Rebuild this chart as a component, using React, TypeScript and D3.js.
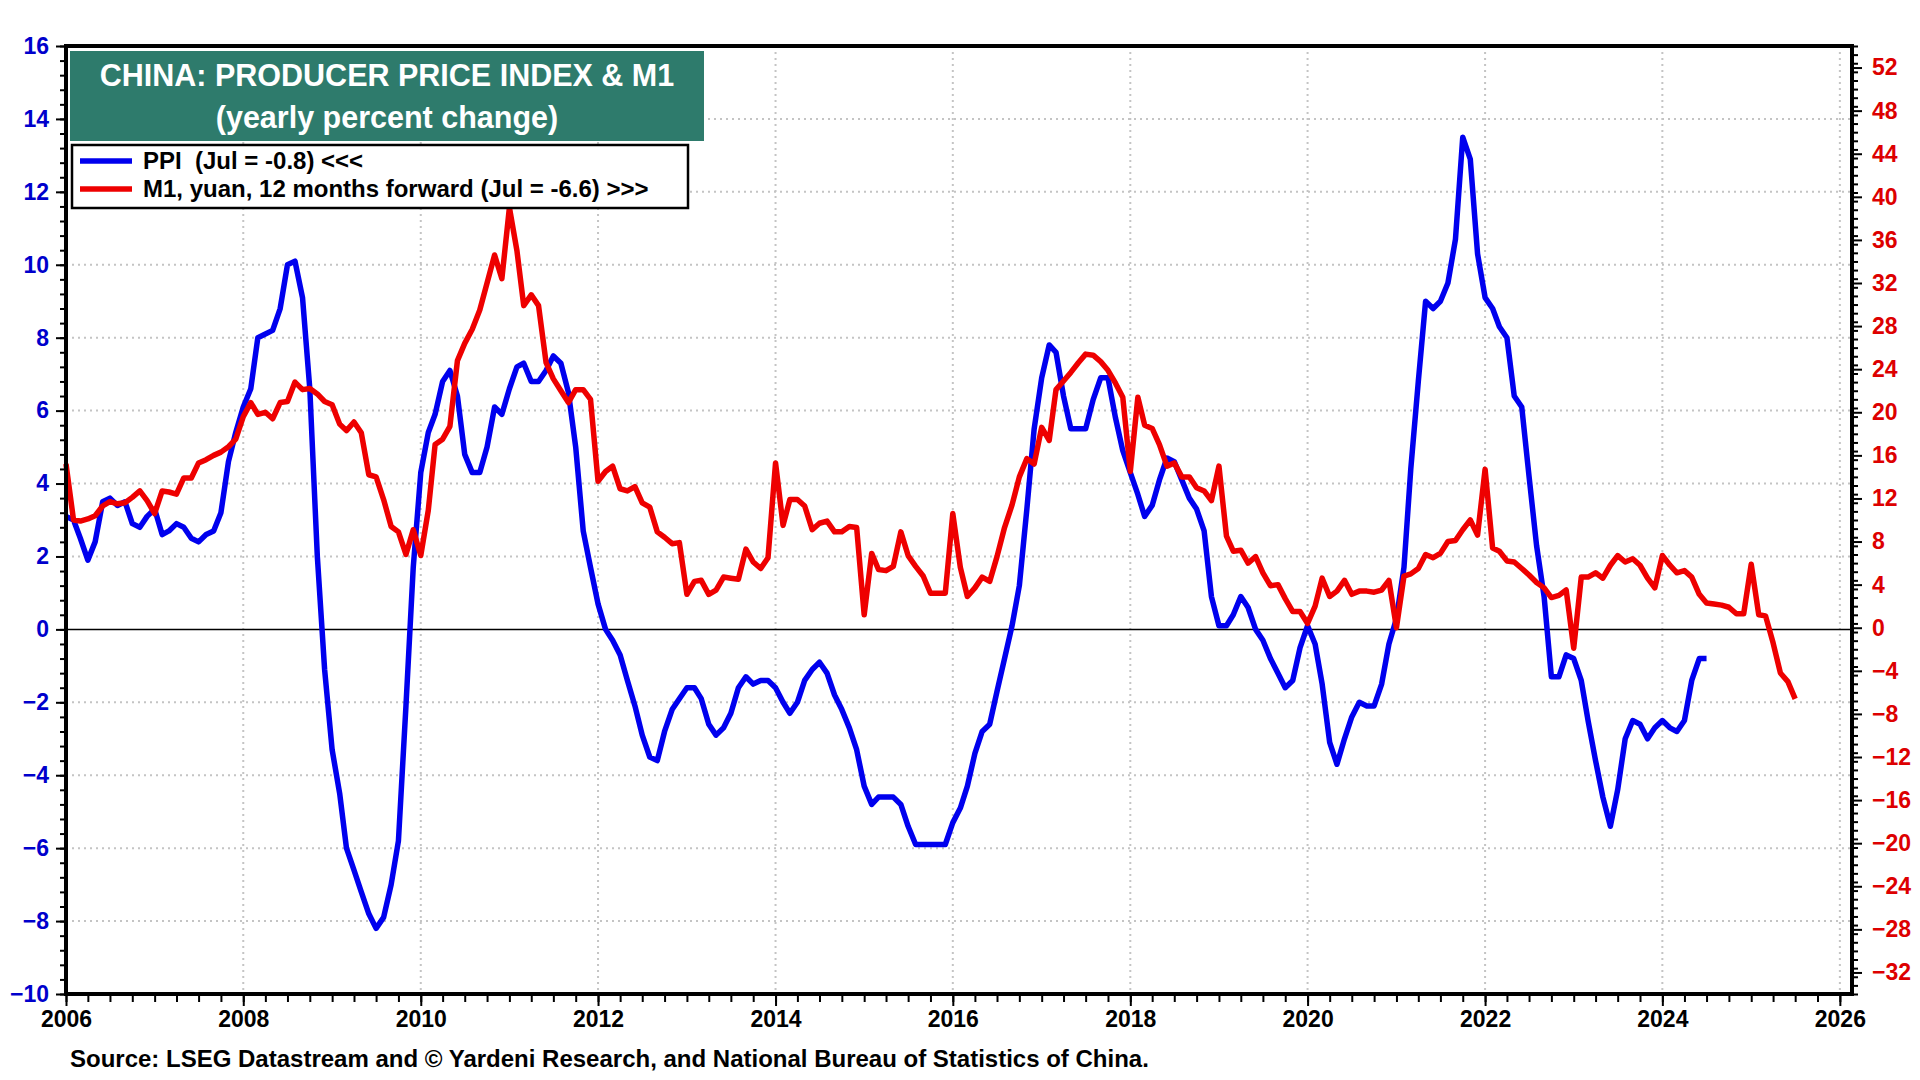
import React, { useRef, useEffect } from "react";
import * as d3 from "d3";

// monthly, Jan 2006 .. Jul 2024
const ppiYoy: number[] = [
  3.1, 3.0, 2.5, 1.9, 2.4, 3.5, 3.6, 3.4, 3.5, 2.9, 2.8, 3.1,
  3.3, 2.6, 2.7, 2.9, 2.8, 2.5, 2.4, 2.6, 2.7, 3.2, 4.6, 5.4,
  6.1, 6.6, 8.0, 8.1, 8.2, 8.8, 10.0, 10.1, 9.1, 6.6, 2.0, -1.1,
  -3.3, -4.5, -6.0, -6.6, -7.2, -7.8, -8.2, -7.9, -7.0, -5.8, -2.1, 1.7,
  4.3, 5.4, 5.9, 6.8, 7.1, 6.4, 4.8, 4.3, 4.3, 5.0, 6.1, 5.9,
  6.6, 7.2, 7.3, 6.8, 6.8, 7.1, 7.5, 7.3, 6.5, 5.0, 2.7, 1.7,
  0.7, 0.0, -0.3, -0.7, -1.4, -2.1, -2.9, -3.5, -3.6, -2.8, -2.2, -1.9,
  -1.6, -1.6, -1.9, -2.6, -2.9, -2.7, -2.3, -1.6, -1.3, -1.5, -1.4, -1.4,
  -1.6, -2.0, -2.3, -2.0, -1.4, -1.1, -0.9, -1.2, -1.8, -2.2, -2.7, -3.3,
  -4.3, -4.8, -4.6, -4.6, -4.6, -4.8, -5.4, -5.9, -5.9, -5.9, -5.9, -5.9,
  -5.3, -4.9, -4.3, -3.4, -2.8, -2.6, -1.7, -0.8, 0.1, 1.2, 3.3, 5.5,
  6.9, 7.8, 7.6, 6.4, 5.5, 5.5, 5.5, 6.3, 6.9, 6.9, 5.8, 4.9,
  4.3, 3.7, 3.1, 3.4, 4.1, 4.7, 4.6, 4.1, 3.6, 3.3, 2.7, 0.9,
  0.1, 0.1, 0.4, 0.9, 0.6, 0.0, -0.3, -0.8, -1.2, -1.6, -1.4, -0.5,
  0.1, -0.4, -1.5, -3.1, -3.7, -3.0, -2.4, -2.0, -2.1, -2.1, -1.5, -0.4,
  0.3, 1.7, 4.4, 6.8, 9.0, 8.8, 9.0, 9.5, 10.7, 13.5, 12.9, 10.3,
  9.1, 8.8, 8.3, 8.0, 6.4, 6.1, 4.2, 2.3, 0.9, -1.3, -1.3, -0.7,
  -0.8, -1.4, -2.5, -3.6, -4.6, -5.4, -4.4, -3.0, -2.5, -2.6, -3.0, -2.7,
  -2.5, -2.7, -2.8, -2.5, -1.4, -0.8, -0.8,
];

// M1 yoy shifted 12 months forward, plotted Jan 2006 .. Jul 2025
const m1Forward: number[] = [
  15.2, 10.0, 9.9, 10.1, 10.4, 11.3, 11.7, 11.5, 11.6, 12.1, 12.7, 11.8,
  10.6, 12.7, 12.6, 12.4, 13.9, 13.9, 15.3, 15.6, 16.0, 16.3, 16.8, 17.5,
  19.6, 20.9, 19.8, 20.0, 19.4, 20.9, 21.0, 22.8, 22.1, 22.2, 21.7, 21.0,
  20.7, 18.9, 18.3, 19.1, 18.1, 14.2, 14.0, 11.9, 9.4, 8.9, 6.8, 9.1,
  6.7, 10.9, 17.0, 17.5, 18.7, 24.8, 26.4, 27.7, 29.5, 32.0, 34.6, 32.4,
  39.0, 35.0, 29.9, 30.9, 29.9, 24.6, 23.1, 22.0, 20.9, 22.1, 22.1, 21.2,
  13.6, 14.5, 15.0, 12.9, 12.7, 13.1, 11.6, 11.2, 8.9, 8.4, 7.8, 7.9,
  3.1, 4.3, 4.4, 3.1, 3.5, 4.7, 4.6, 4.5, 7.3, 6.1, 5.5, 6.5,
  15.3, 9.5, 11.9, 11.9, 11.3, 9.1, 9.7, 9.9, 8.9, 8.9, 9.4, 9.3,
  1.2, 6.9, 5.4, 5.3, 5.7, 8.9, 6.7, 5.7, 4.8, 3.2, 3.2, 3.2,
  10.6, 5.6, 2.9, 3.7, 4.7, 4.3, 6.6, 9.3, 11.4, 14.0, 15.7, 15.2,
  18.6, 17.4, 22.1, 22.9, 23.7, 24.6, 25.4, 25.3, 24.7, 23.9, 22.7, 21.4,
  14.5, 21.4, 18.8, 18.5, 17.0, 15.0, 15.3, 14.0, 14.0, 13.0, 12.7, 11.8,
  15.0, 8.5, 7.1, 7.2, 6.0, 6.6, 5.1, 3.9, 4.0, 2.7, 1.5, 1.5,
  0.4, 2.0, 4.6, 2.9, 3.4, 4.4, 3.1, 3.4, 3.4, 3.3, 3.5, 4.4,
  0.0, 4.8, 5.0, 5.5, 6.8, 6.5, 6.9, 8.0, 8.1, 9.1, 10.0, 8.6,
  14.7, 7.4, 7.1, 6.2, 6.1, 5.5, 4.9, 4.2, 3.7, 2.8, 3.0, 3.5,
  -1.9, 4.7, 4.7, 5.1, 4.6, 5.8, 6.7, 6.1, 6.4, 5.8, 4.6, 3.7,
  6.7, 5.8, 5.1, 5.3, 4.7, 3.1, 2.3, 2.2, 2.1, 1.9, 1.3, 1.3,
  5.9, 1.2, 1.1, -1.4, -4.2, -5.0, -6.6,
];

const yearTicks = [2006, 2008, 2010, 2012, 2014, 2016, 2018, 2020, 2022, 2024, 2026];
const leftTicks = [-10, -8, -6, -4, -2, 0, 2, 4, 6, 8, 10, 12, 14, 16];
const rightTicks = [-32, -28, -24, -20, -16, -12, -8, -4, 0, 4, 8, 12, 16, 20, 24, 28, 32, 36, 40, 44, 48, 52];

const titleLines = ["CHINA: PRODUCER PRICE INDEX & M1", "(yearly percent change)"];
const legendItems = [
  { label: "PPI  (Jul = -0.8) <<<", color: "#0000ee" },
  { label: "M1, yuan, 12 months forward (Jul = -6.6) >>>", color: "#ee0000" },
];
const sourceText =
  "Source: LSEG Datastream and \u00A9 Yardeni Research, and National Bureau of Statistics of China.";

const FONT = "'Liberation Sans', Arial, Helvetica, sans-serif";

const App: React.FC = () => {
  const svgRef = useRef<SVGSVGElement | null>(null);

  useEffect(() => {
    const width = 1920;
    const height = 1080;
    const L = 66, R = 1852, T = 46, B = 994;

    const svg = d3.select(svgRef.current);
    svg.selectAll("*").remove();
    svg.attr("width", width).attr("height", height);

    svg.append("rect").attr("width", width).attr("height", height).attr("fill", "#fff");

    const start = new Date(2006, 0, 1);
    const x = d3.scaleTime().domain([start, new Date(2026, 1, 20)]).range([L, R]);
    const yL = d3.scaleLinear().domain([-10, 16]).range([B, T]);
    const yR = d3.scaleLinear().domain([-34, 54]).range([B, T]);

    const ppi = ppiYoy.map((v, i) => ({ date: d3.timeMonth.offset(start, i), v }));
    const m1 = m1Forward.map((v, i) => ({ date: d3.timeMonth.offset(start, i), v }));

    // grid
    const grid = svg.append("g");
    grid
      .selectAll("line.h")
      .data(leftTicks.filter((t) => t !== -10 && t !== 16 && t !== 0))
      .enter()
      .append("line")
      .attr("x1", L)
      .attr("x2", R)
      .attr("y1", (d) => yL(d))
      .attr("y2", (d) => yL(d))
      .attr("stroke", "#c4c4c4")
      .attr("stroke-width", 2)
      .attr("stroke-dasharray", "2,4");
    grid
      .selectAll("line.v")
      .data(yearTicks.filter((y) => y !== 2006))
      .enter()
      .append("line")
      .attr("x1", (d) => x(new Date(d, 0, 1)))
      .attr("x2", (d) => x(new Date(d, 0, 1)))
      .attr("y1", T)
      .attr("y2", B)
      .attr("stroke", "#c4c4c4")
      .attr("stroke-width", 2)
      .attr("stroke-dasharray", "2,4");

    // zero line
    svg
      .append("line")
      .attr("x1", L)
      .attr("x2", R)
      .attr("y1", yL(0))
      .attr("y2", yL(0))
      .attr("stroke", "#000")
      .attr("stroke-width", 1.5);

    // series
    const ppiLine = d3
      .line<{ date: Date; v: number }>()
      .x((d) => x(d.date))
      .y((d) => yL(d.v));
    const m1Line = d3
      .line<{ date: Date; v: number }>()
      .x((d) => x(d.date))
      .y((d) => yR(d.v));

    svg
      .append("path")
      .datum(ppi)
      .attr("fill", "none")
      .attr("stroke", "#0000ee")
      .attr("stroke-width", 5.5)
      .attr("stroke-linejoin", "round")
      .attr("d", ppiLine);

    svg
      .append("path")
      .datum(m1)
      .attr("fill", "none")
      .attr("stroke", "#ee0000")
      .attr("stroke-width", 5.5)
      .attr("stroke-linejoin", "round")
      .attr("d", m1Line);

    // x axis: quarterly minor ticks, 2-year labelled ticks
    const quarters = d3.timeMonth.every(3)!.range(start, new Date(2026, 1, 20));
    svg
      .append("g")
      .attr("transform", `translate(0,${B})`)
      .call(d3.axisBottom(x).tickValues(quarters).tickSize(8).tickFormat(() => ""))
      .call((g) => g.select(".domain").remove())
      .call((g) => g.selectAll("line").attr("stroke", "#000").attr("stroke-width", 2));

    const xAxis = svg
      .append("g")
      .attr("transform", `translate(0,${B})`)
      .call(
        d3
          .axisBottom(x)
          .tickValues(yearTicks.map((y) => new Date(y, 0, 1)))
          .tickSize(12)
          .tickPadding(5)
          .tickFormat((d) => d3.timeFormat("%Y")(d as Date))
      );
    xAxis.select(".domain").remove();
    xAxis.selectAll("line").attr("stroke", "#000").attr("stroke-width", 2);
    xAxis
      .selectAll("text")
      .style("font-family", FONT)
      .style("font-size", "23px")
      .style("font-weight", "700")
      .attr("fill", "#000");

    // left axis
    const leftMinor = d3.range(-10, 16.001, 0.4);
    svg
      .append("g")
      .attr("transform", `translate(${L},0)`)
      .call(d3.axisLeft(yL).tickValues(leftMinor).tickSize(6).tickFormat(() => ""))
      .call((g) => g.select(".domain").remove())
      .call((g) => g.selectAll("line").attr("stroke", "#000").attr("stroke-width", 2));
    const leftAxis = svg
      .append("g")
      .attr("transform", `translate(${L},0)`)
      .call(d3.axisLeft(yL).tickValues(leftTicks).tickSize(10).tickPadding(7));
    leftAxis.select(".domain").remove();
    leftAxis.selectAll("line").attr("stroke", "#000").attr("stroke-width", 2);
    leftAxis
      .selectAll("text")
      .style("font-family", FONT)
      .style("font-size", "23px")
      .style("font-weight", "700")
      .attr("fill", "#0000cc");

    // right axis
    const rightMinor = d3.range(-34, 54.001, 0.8);
    svg
      .append("g")
      .attr("transform", `translate(${R},0)`)
      .call(d3.axisRight(yR).tickValues(rightMinor).tickSize(6).tickFormat(() => ""))
      .call((g) => g.select(".domain").remove())
      .call((g) => g.selectAll("line").attr("stroke", "#000").attr("stroke-width", 2));
    const rightAxis = svg
      .append("g")
      .attr("transform", `translate(${R},0)`)
      .call(d3.axisRight(yR).tickValues(rightTicks).tickSize(10).tickPadding(10));
    rightAxis.select(".domain").remove();
    rightAxis.selectAll("line").attr("stroke", "#000").attr("stroke-width", 2);
    rightAxis
      .selectAll("text")
      .style("font-family", FONT)
      .style("font-size", "23px")
      .style("font-weight", "700")
      .attr("fill", "#dd0000");

    // frame
    svg
      .append("rect")
      .attr("x", L)
      .attr("y", T)
      .attr("width", R - L)
      .attr("height", B - T)
      .attr("fill", "none")
      .attr("stroke", "#000")
      .attr("stroke-width", 4);

    // title box
    svg
      .append("rect")
      .attr("x", 70)
      .attr("y", 51)
      .attr("width", 634)
      .attr("height", 90)
      .attr("fill", "#2e7b6c");
    svg
      .selectAll("text.title")
      .data(titleLines)
      .enter()
      .append("text")
      .attr("x", 387)
      .attr("y", (_, i) => 86 + i * 42)
      .attr("text-anchor", "middle")
      .style("font-family", FONT)
      .style("font-size", "30.5px")
      .style("font-weight", "700")
      .attr("fill", "#fff")
      .text((d) => d);

    // legend
    svg
      .append("rect")
      .attr("x", 72)
      .attr("y", 145)
      .attr("width", 616)
      .attr("height", 63)
      .attr("fill", "#fff")
      .attr("stroke", "#000")
      .attr("stroke-width", 2.5);
    const leg = svg
      .selectAll("g.leg")
      .data(legendItems)
      .enter()
      .append("g")
      .attr("transform", (_, i) => `translate(0,${161 + i * 28})`);
    leg
      .append("line")
      .attr("x1", 80)
      .attr("x2", 132)
      .attr("stroke", (d) => d.color)
      .attr("stroke-width", 5.5);
    leg
      .append("text")
      .attr("x", 143)
      .attr("y", 8)
      .style("font-family", FONT)
      .style("font-size", "24px")
      .style("font-weight", "700")
      .style("white-space", "pre")
      .attr("fill", "#000")
      .text((d) => d.label);

    // source
    svg
      .append("text")
      .attr("x", 70)
      .attr("y", 1067)
      .style("font-family", FONT)
      .style("font-size", "24px")
      .style("font-weight", "700")
      .attr("fill", "#000")
      .text(sourceText);
  }, []);

  return (
    <div style={{ position: "absolute", left: 0, top: 0, width: 1920, height: 1080 }}>
      <svg ref={svgRef} style={{ display: "block" }}></svg>
    </div>
  );
};

export default App;
